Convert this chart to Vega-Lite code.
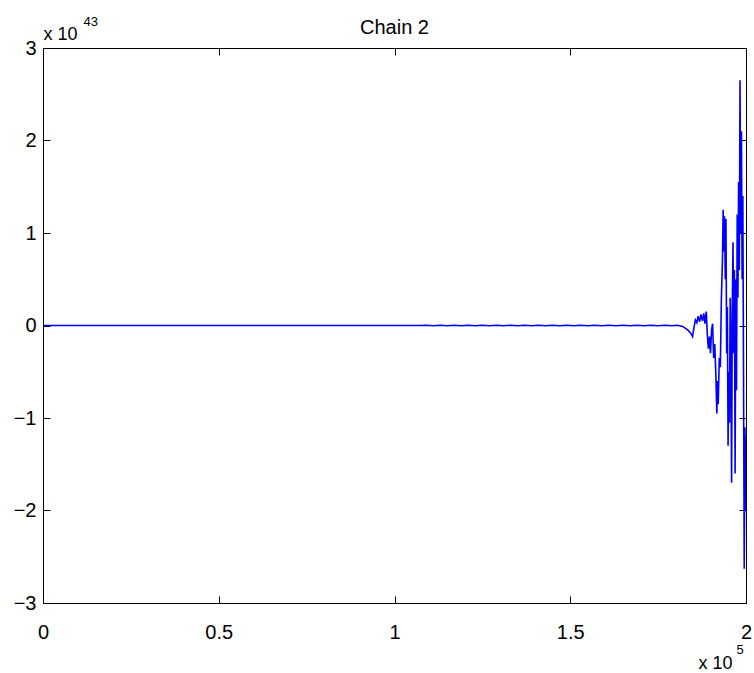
{
  "$schema": "https://vega.github.io/schema/vega-lite/v6.json",
  "width": 703,
  "height": 555,
  "autosize": "none",
  "padding": {"left": 43, "top": 48, "right": 8, "bottom": 70},
  "background": "white",
  "config": {
    "view": {"stroke": "black", "strokeWidth": 1},
    "font": "Liberation Sans",
    "axis": {
      "domainColor": "black",
      "domainWidth": 1,
      "tickColor": "black",
      "tickSize": -7,
      "tickWidth": 1,
      "grid": false,
      "labelFont": "Liberation Sans",
      "labelFontSize": 20,
      "labelColor": "black",
      "titleFont": "Liberation Sans",
      "titleFontWeight": "normal",
      "titleColor": "black"
    }
  },
  "title": {
    "text": "Chain 2",
    "fontSize": 20,
    "fontWeight": "normal",
    "font": "Liberation Sans",
    "color": "black",
    "frame": "group",
    "anchor": "middle",
    "baseline": "alphabetic",
    "offset": -16,
    "dy": 23
  },
  "data": {
    "values": [
      {"iteration": 0, "value": 0},
      {"iteration": 50000, "value": 0},
      {"iteration": 107000, "value": 0},
      {"iteration": 109000, "value": 2e40},
      {"iteration": 111000, "value": -2e40},
      {"iteration": 113000, "value": 3e40},
      {"iteration": 115000, "value": -2e40},
      {"iteration": 117000, "value": 2e40},
      {"iteration": 119000, "value": -3e40},
      {"iteration": 121000, "value": 3e40},
      {"iteration": 123000, "value": -2e40},
      {"iteration": 125000, "value": 2e40},
      {"iteration": 127000, "value": -3e40},
      {"iteration": 129000, "value": 2e40},
      {"iteration": 131000, "value": -2e40},
      {"iteration": 133000, "value": 3e40},
      {"iteration": 135000, "value": -3e40},
      {"iteration": 137000, "value": 2e40},
      {"iteration": 139000, "value": -2e40},
      {"iteration": 141000, "value": 3e40},
      {"iteration": 143000, "value": -2e40},
      {"iteration": 145000, "value": 2e40},
      {"iteration": 147000, "value": -3e40},
      {"iteration": 149000, "value": 2e40},
      {"iteration": 151000, "value": -2e40},
      {"iteration": 153000, "value": 3e40},
      {"iteration": 155000, "value": -2e40},
      {"iteration": 157000, "value": 2e40},
      {"iteration": 159000, "value": -3e40},
      {"iteration": 161000, "value": 3e40},
      {"iteration": 163000, "value": -2e40},
      {"iteration": 165000, "value": 2e40},
      {"iteration": 167000, "value": -3e40},
      {"iteration": 169000, "value": 3e40},
      {"iteration": 171000, "value": -2e40},
      {"iteration": 173000, "value": 2e40},
      {"iteration": 175000, "value": -3e40},
      {"iteration": 177000, "value": 3e40},
      {"iteration": 179000, "value": -2e40},
      {"iteration": 180500, "value": 3e40},
      {"iteration": 182000, "value": -1e41},
      {"iteration": 183500, "value": -5e41},
      {"iteration": 184400, "value": -9e41},
      {"iteration": 184800, "value": -1.2e42},
      {"iteration": 185200, "value": -2e41},
      {"iteration": 185600, "value": 6e41},
      {"iteration": 186000, "value": 3e41},
      {"iteration": 186400, "value": 1e42},
      {"iteration": 186800, "value": 4e41},
      {"iteration": 187200, "value": 1.2e42},
      {"iteration": 187600, "value": 5e41},
      {"iteration": 188000, "value": 1.3e42},
      {"iteration": 188300, "value": 2e41},
      {"iteration": 188700, "value": 1.5e42},
      {"iteration": 189000, "value": -1e42},
      {"iteration": 189300, "value": -2.5e42},
      {"iteration": 189600, "value": -1.2e42},
      {"iteration": 189900, "value": -3e42},
      {"iteration": 190200, "value": -5e41},
      {"iteration": 190500, "value": 2e41},
      {"iteration": 190800, "value": -3.5e42},
      {"iteration": 191100, "value": -2e42},
      {"iteration": 191400, "value": -5e42},
      {"iteration": 191700, "value": -9.5e42},
      {"iteration": 191900, "value": -6e42},
      {"iteration": 192100, "value": -8.5e42},
      {"iteration": 192400, "value": -3.5e42},
      {"iteration": 192700, "value": -4.5e42},
      {"iteration": 193000, "value": 3e42},
      {"iteration": 193300, "value": 7e42},
      {"iteration": 193500, "value": 1.25e43},
      {"iteration": 193700, "value": 8e42},
      {"iteration": 193900, "value": 1.18e43},
      {"iteration": 194100, "value": 5e42},
      {"iteration": 194300, "value": 1.15e43},
      {"iteration": 194500, "value": -3e42},
      {"iteration": 194700, "value": 2e42},
      {"iteration": 194900, "value": -1.3e43},
      {"iteration": 195100, "value": -5e42},
      {"iteration": 195300, "value": -1.05e43},
      {"iteration": 195500, "value": 3e42},
      {"iteration": 195700, "value": -2e42},
      {"iteration": 195900, "value": -1.7e43},
      {"iteration": 196100, "value": 2e42},
      {"iteration": 196300, "value": 9e42},
      {"iteration": 196500, "value": -3e42},
      {"iteration": 196700, "value": 6e42},
      {"iteration": 196900, "value": -1.6e43},
      {"iteration": 197100, "value": 5e42},
      {"iteration": 197300, "value": -7e42},
      {"iteration": 197500, "value": 1.2e43},
      {"iteration": 197700, "value": 3e42},
      {"iteration": 197900, "value": 1.55e43},
      {"iteration": 198100, "value": 6e42},
      {"iteration": 198300, "value": 2.65e43},
      {"iteration": 198500, "value": 1e43},
      {"iteration": 198700, "value": 2.1e43},
      {"iteration": 198900, "value": 5e42},
      {"iteration": 199100, "value": 1.4e43},
      {"iteration": 199300, "value": -6e42},
      {"iteration": 199500, "value": -2.63e43},
      {"iteration": 199700, "value": -1.1e43},
      {"iteration": 199850, "value": -2e43},
      {"iteration": 200000, "value": -1.2e43}
    ]
  },
  "layer": [
    {
      "mark": {"type": "line", "color": "#0000ff", "strokeWidth": 1.6, "clip": true},
      "encoding": {
        "x": {
          "field": "iteration",
          "type": "quantitative",
          "scale": {"domain": [0, 200000], "nice": false, "zero": false},
          "axis": {
            "orient": "bottom",
            "values": [0, 50000, 100000, 150000, 200000],
            "labelExpr": "format(datum.value / 100000, '~g')",
            "labelPadding": 26,
            "labelFlush": false,
            "labelOverlap": false,
            "title": "x 10",
            "titleFontSize": 18,
            "titleAngle": 0,
            "titleAlign": "left",
            "titleBaseline": "alphabetic",
            "titleX": 655,
            "titleY": 65
          }
        },
        "y": {
          "field": "value",
          "type": "quantitative",
          "scale": {"domain": [-3e43, 3e43], "nice": false, "zero": false},
          "axis": {
            "orient": "left",
            "values": [-3e43, -2e43, -1e43, 0, 1e43, 2e43, 3e43],
            "labelExpr": "format(datum.value / 1e43, 'd')",
            "labelPadding": 14,
            "labelFlush": false,
            "labelOverlap": false,
            "title": "x 10",
            "titleFontSize": 18,
            "titleAngle": 0,
            "titleAlign": "left",
            "titleBaseline": "alphabetic",
            "titleX": 0,
            "titleY": -9
          }
        }
      }
    },
    {
      "mark": {"type": "line", "opacity": 0},
      "encoding": {
        "x": {
          "field": "iteration",
          "type": "quantitative",
          "axis": {
            "orient": "top",
            "values": [0, 50000, 100000, 150000, 200000],
            "labels": false,
            "title": "43",
            "titleFontSize": 13,
            "titleAngle": 0,
            "titleAlign": "left",
            "titleBaseline": "alphabetic",
            "titleX": 40,
            "titleY": -23
          }
        },
        "y": {
          "field": "value",
          "type": "quantitative",
          "axis": {
            "orient": "right",
            "values": [-3e43, -2e43, -1e43, 0, 1e43, 2e43, 3e43],
            "labels": false,
            "title": "5",
            "titleFontSize": 13,
            "titleAngle": 0,
            "titleAlign": "left",
            "titleBaseline": "alphabetic",
            "titleX": -10,
            "titleY": 605
          }
        }
      }
    }
  ],
  "resolve": {"axis": {"x": "independent", "y": "independent"}}
}
